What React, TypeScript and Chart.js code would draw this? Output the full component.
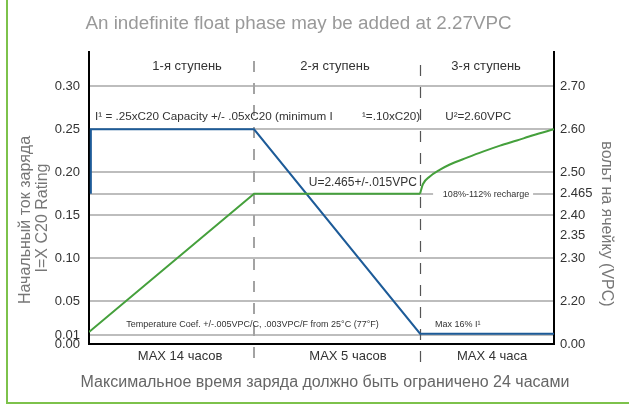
import React, { useEffect, useRef } from "react";
import { Chart, registerables } from "chart.js";
Chart.register(...registerables);

// ---- data ----
const stageBounds = [35.5, 71.2];
const stageNames = ["1-я ступень", "2-я ступень", "3-я ступень"];
const stageNameX = [21.1, 52.9, 85.4];
const durationLabels = ["MAX 14 часов", "MAX 5 часов", "MAX 4 часа"];
const durationX = [19.6, 55.7, 86.7];

const leftTicks = [0, 0.01, 0.05, 0.1, 0.15, 0.2, 0.25, 0.3];
const leftTickLabels = ["0.00", "0.01", "0.05", "0.10", "0.15", "0.20", "0.25", "0.30"];
const rightTicks = [0, 0.05, 0.1, 0.127, 0.15, 0.175, 0.2, 0.25, 0.3];
const rightTickLabels = ["0.00", "2.20", "2.30", "2.35", "2.40", "2.465", "2.50", "2.60", "2.70"];

const currentX = [0.4, 0.4, 35.5, 71.2, 100];
const currentY = [0.175, 0.25, 0.25, 0.012, 0.012];
const voltageX = [0, 35.5, 71.2];
const voltageY = [0.014, 0.175, 0.175];
const rechargeX = [71.2, 71.8, 73.3, 75.5, 77.6, 81.3, 84.7, 88.4, 92, 95.5, 100];
const rechargeY = [0.175, 0.186, 0.195, 0.203, 0.209, 0.217, 0.224, 0.231, 0.237, 0.243, 0.25];

const titleText = "An indefinite float phase may be added at 2.27VPC";
const footerText = "Максимальное время заряда должно быть ограничено 24 часами";
const leftTitle = ["Начальный ток заряда", "I=X C20 Rating"];
const rightTitle = "вольт на ячейку (VPC)";

const FONT = '"Liberation Sans", Arial, sans-serif';
const BLUE = "#1d5b98";
const GREEN = "#45a03c";
const GRID = "#bdbdbd";

const pts = (xs: number[], ys: number[]) => xs.map((x, i) => ({ x, y: ys[i] }));

const annotate = {
  id: "annotate",
  beforeDatasetsDraw(chart: any) {
    const { ctx, scales, chartArea } = chart;
    const x = scales.x;
    ctx.save();
    ctx.setLineDash([11, 11]);
    stageBounds.forEach((b, i) => {
      const px = Math.round(x.getPixelForValue(b)) + (i === 0 ? 0 : 0.5);
      ctx.strokeStyle = i === 0 ? "#a3a3a3" : "#555";
      ctx.lineWidth = i === 0 ? 2 : 1.2;
      ctx.beginPath();
      ctx.moveTo(px, chartArea.top + 9 + i * 4);
      ctx.lineTo(px, chartArea.bottom + 23 + i * 3);
      ctx.stroke();
    });
    ctx.restore();
  },
  afterDatasetsDraw(chart: any) {
    const { ctx, scales } = chart;
    const x = scales.x;
    const y = scales.y;
    ctx.save();
    ctx.fillStyle = "#333";
    ctx.textBaseline = "middle";
    // stage names
    ctx.font = `13px ${FONT}`;
    ctx.textAlign = "center";
    stageNames.forEach((s, i) => ctx.fillText(s, x.getPixelForValue(stageNameX[i]), y.getPixelForValue(0.323)));
    // row of current text
    ctx.font = `11.7px ${FONT}`;
    ctx.textAlign = "left";
    const yr = y.getPixelForValue(0.265);
    ctx.fillText("I¹ = .25xC20 Capacity +/- .05xC20 (minimum I", x.getPixelForValue(1.3), yr);
    ctx.fillText("¹=.10xC20)", x.getPixelForValue(58.7), yr);
    ctx.fillText("U²=2.60VPC", x.getPixelForValue(76.6), yr);
    ctx.font = `12px ${FONT}`;
    ctx.textAlign = "right";
    ctx.fillText("U=2.465+/-.015VPC", x.getPixelForValue(70.5), y.getPixelForValue(0.188));
    // recharge label with white box
    const yb = y.getPixelForValue(0.175);
    const bx0 = x.getPixelForValue(74);
    const bx1 = x.getPixelForValue(95.5);
    ctx.fillStyle = "#fff";
    ctx.fillRect(bx0, yb - 5, bx1 - bx0, 10);
    ctx.fillStyle = "#333";
    ctx.font = `9px ${FONT}`;
    ctx.textAlign = "left";
    ctx.fillText("108%-112% recharge", x.getPixelForValue(76.1), yb + 0.5);
    const yt = y.getPixelForValue(0.023);
    ctx.fillText("Temperature Coef. +/-.005VPC/C, .003VPC/F from 25°C (77°F)", x.getPixelForValue(8.0), yt);
    ctx.fillText("Max 16% I¹", x.getPixelForValue(74.4), yt);
    ctx.restore();
  },
  afterDraw(chart: any) {
    const { ctx } = chart;
    ctx.save();
    // frame
    ctx.fillStyle = "#7dc24b";
    ctx.fillRect(6, 0, 2, 404);
    ctx.fillRect(6, 402, 640, 2);
    // title
    ctx.textAlign = "center";
    ctx.textBaseline = "alphabetic";
    ctx.fillStyle = "#999";
    ctx.font = `18.8px ${FONT}`;
    ctx.fillText(titleText, 298.5, 29);
    ctx.fillStyle = "#666";
    ctx.font = `16px ${FONT}`;
    ctx.fillText(footerText, 325, 387);
    // axis titles
    ctx.textBaseline = "middle";
    ctx.fillStyle = "#777";
    ctx.font = `16px ${FONT}`;
    ctx.save();
    ctx.translate(26, 220);
    ctx.rotate(-Math.PI / 2);
    ctx.fillText(leftTitle[0], 0, 0);
    ctx.restore();
    ctx.save();
    ctx.translate(43, 218);
    ctx.rotate(-Math.PI / 2);
    ctx.fillText(leftTitle[1], 0, 0);
    ctx.restore();
    ctx.save();
    ctx.translate(606, 224);
    ctx.rotate(Math.PI / 2);
    ctx.fillText(rightTitle, 0, 0);
    ctx.restore();
    ctx.restore();
  },
};

export default function App() {
  const ref = useRef<HTMLCanvasElement | null>(null);
  useEffect(() => {
    if (!ref.current) return;
    const tickFont = { family: FONT, size: 13 };
    const chart = new Chart(ref.current, {
      type: "line",
      data: {
        datasets: [
          { data: pts(voltageX, voltageY), borderColor: GREEN, borderWidth: 2, pointRadius: 0, fill: false, tension: 0 },
          { data: pts(rechargeX, rechargeY), borderColor: GREEN, borderWidth: 2, pointRadius: 0, fill: false, cubicInterpolationMode: "monotone" },
          { data: pts(currentX, currentY), borderColor: BLUE, borderWidth: 2, pointRadius: 0, fill: false, tension: 0 },
        ],
      },
      options: {
        animation: false,
        responsive: false,
        devicePixelRatio: 1,
        layout: { padding: { top: 52, left: 0, right: 0, bottom: 0 } },
        plugins: { legend: { display: false }, tooltip: { enabled: false }, title: { display: false } },
        scales: {
          x: {
            type: "linear",
            min: 0,
            max: 100,
            afterBuildTicks: (s: any) => { s.ticks = durationX.map((v) => ({ value: v })); },
            afterFit: (s: any) => { s.height = 61; },
            ticks: { callback: (_v: any, i: number) => durationLabels[i], font: tickFont, color: "#333", padding: 5, maxRotation: 0, autoSkip: false },
            grid: { display: false, drawTicks: false },
            border: { color: "#000", width: 2 },
          },
          y: {
            type: "linear",
            position: "left",
            min: 0,
            max: 0.34,
            afterBuildTicks: (s: any) => { s.ticks = leftTicks.map((v) => ({ value: v })); },
            afterFit: (s: any) => { s.width = 89; },
            ticks: { callback: (_v: any, i: number) => leftTickLabels[i], font: tickFont, color: "#333", padding: 9, autoSkip: false },
            grid: { color: (c: any) => (c.tick && c.tick.value === 0 ? "rgba(0,0,0,0)" : GRID), lineWidth: 2, drawTicks: false },
            border: { color: "#000", width: 2 },
          },
          y2: {
            type: "linear",
            position: "right",
            min: 0,
            max: 0.34,
            afterBuildTicks: (s: any) => { s.ticks = rightTicks.map((v) => ({ value: v })); },
            afterFit: (s: any) => { s.width = 75; },
            ticks: { callback: (_v: any, i: number) => rightTickLabels[i], font: tickFont, color: "#333", padding: 6, autoSkip: false },
            grid: {
              color: (c: any) => (c.tick && (c.tick.value === 0 || rightTickLabels[c.index] === "2.35") ? "rgba(0,0,0,0)" : GRID),
              lineWidth: 2,
              drawTicks: false,
            },
            border: { color: "#000", width: 2 },
          },
        },
      },
      plugins: [annotate],
    } as any);
    return () => chart.destroy();
  }, []);
  return (
    <div style={{ position: "fixed", left: 0, top: 0, width: 629, height: 405, background: "#fff" }}>
      <canvas ref={ref} width={629} height={405} style={{ display: "block" }} />
    </div>
  );
}
